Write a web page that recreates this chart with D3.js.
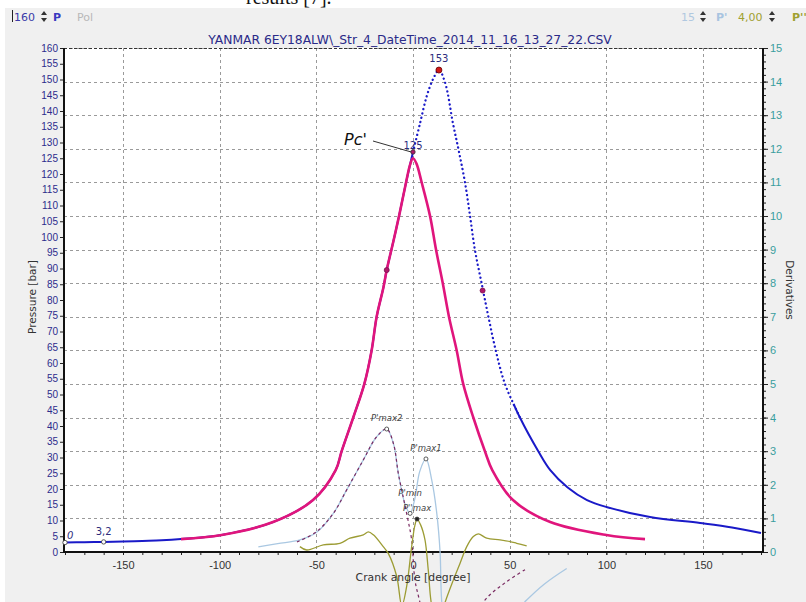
<!DOCTYPE html>
<html>
<head>
<meta charset="utf-8">
<script src="https://cdn.jsdelivr.net/npm/d3@7"></script>
<style>
  body { margin: 0; background: #fff; }
  svg { display: block; font-family: "DejaVu Sans", sans-serif; }
</style>
</head>
<body>
<div class="canvas"></div>
<script>
// data
const title = 'YANMAR 6EY18ALW\\_Str_4_DateTime_2014_11_16_13_27_22.CSV';
const xTicks = [-150, -100, -50, 0, 50, 100, 150];

// measured pressure P [bar] vs crank angle
const pressure = [
  [-180, 3.0], [-170, 3.1], [-160, 3.2], [-150, 3.3], [-140, 3.5], [-130, 3.7],
  [-120, 4.1], [-99, 5.4], [-72.4, 9.5], [-51.7, 16.5], [-40, 26], [-36.9, 32],
  [-30.9, 42.7], [-25.2, 53.3], [-21.4, 64], [-18.8, 74.7], [-15.3, 84], [-13.6, 89.5],
  [-10.2, 98.5], [-7.2, 106.7], [-3.6, 117.3], [0, 127], [3.6, 136], [7, 144.5],
  [10.3, 150], [13.4, 153], [16.6, 149], [20.7, 136], [23.8, 127], [26.9, 117.3],
  [29.5, 106.7], [32, 96], [35.5, 85.3], [39, 74.7], [42.8, 64], [47.6, 53.3],
  [55.3, 42.7], [64.8, 32], [71, 26], [80, 20.5], [90, 16.5], [100, 14.3],
  [122.6, 11.1], [148.5, 9.2], [165, 7.8], [180, 6.0]
];
const dottedFrom = 0, dottedTo = 52;

// polytrope (Pol) curve [bar]
const polytrope = [
  [-120, 4.1], [-99, 5.4], [-72.4, 9.5], [-51.7, 16.5], [-40, 26], [-36.9, 32],
  [-30.9, 42.7], [-25.2, 53.3], [-21.4, 64], [-18.8, 74.7], [-15.3, 84], [-13.6, 89.5],
  [-10.2, 98.5], [-7.2, 106.7], [-3.6, 117.3], [-1.5, 123], [0, 125], [1.8, 123.3],
  [4.5, 117.3], [8.8, 106.7], [11.9, 96], [15.4, 85.3], [18.6, 74.7], [22.6, 64],
  [26, 53.3], [31.2, 42.7], [37.2, 32], [41, 26], [51.7, 16.5], [71, 9.5], [100, 5.4],
  [120, 4.1]
];

// first derivative P' (light blue)
const dP = [
  [-80, 0.15], [-70, 0.25], [-58.5, 0.36], [-50, 0.58], [-41.2, 1.15], [-34.3, 1.85],
  [-25.7, 2.74], [-18.8, 3.43], [-13.6, 3.66], [-10, 3.2], [-7.6, 2.34], [-4, 1.4],
  [-1.5, 1.15], [1, 1.6], [3.5, 2.4], [6.7, 2.77], [9.7, 2.14], [12.3, 1.15],
  [14, 0], [14.8, -1.43], [17, -2.6], [25, -3.4], [40, -2.6], [58.8, -1.43],
  [68, -0.95], [79.5, -0.49]
];

// first derivative of polytrope (dashed)
const dPol = [
  [-60, 0.3], [-50, 0.6], [-41.2, 1.15], [-34.3, 1.85], [-25.7, 2.74], [-18.8, 3.43],
  [-13.6, 3.66], [-10, 3.2], [-7.6, 2.34], [-3.3, 1.15], [-0.7, 0.36], [1, -0.83],
  [3.6, -1.5], [8, -2.6], [15, -3.3], [25, -2.6], [37.2, -1.43], [48, -0.9], [59, -0.49]
];

// second derivative P'' (olive)
const ddP = [
  [-58.5, 0.16], [-55, 0.06], [-46.4, 0.21], [-37.8, 0.26], [-32.6, 0.41], [-25.7, 0.51],
  [-23.1, 0.6], [-20.5, 0.51], [-15.4, 0.16], [-12.8, -0.04], [-8.4, -0.73], [-5.8, -1.6],
  [-3.3, -1.03], [-0.7, 0.16], [1, 0.8], [2.1, 0.98], [4, 0.8], [6.2, 0.36], [7.9, -0.54],
  [9.7, -1.6], [13, -2.2], [16.6, -1.5], [20.9, -0.83], [24.3, -0.34], [27.8, 0.16],
  [31.2, 0.46], [33.8, 0.54], [38.1, 0.41], [45, 0.36], [50.2, 0.31], [53.6, 0.26],
  [58.8, 0.18]
];

// annotated points
const pMarks = [
  { a: -180, v: 3.0, label: '0', dx: 2, dy: -4, italic: true },
  { a: -160, v: 3.2, label: '3,2', dx: 0, dy: -7 },
  { a: 0, v: 127, label: '125', dx: 0, dy: -3 },
  { a: 13.4, v: 153, label: '153', dx: 0, dy: -8 }
];
const polMarks = [[-13.6, 89.5], [36, 83]];
const dMarks = [
  { a: -13.6, v: 3.66, label: "P'max2", dy: -8 },
  { a: 6.7, v: 2.77, label: "P'max1", dy: -8 },
  { a: -1.5, v: 1.15, label: "P'min", dy: -17 }
];
const ddMarks = [{ a: 2.1, v: 0.98, label: "P''max", dy: -8 }];

// setup
const W = 806, H = 602;
const svg = d3.select('.canvas').append('svg')
              .attr('width', W).attr('height', H);

svg.append('rect').attr('x', 5).attr('y', 8).attr('width', W - 5).attr('height', H - 8)
   .attr('fill', '#f0f0f0');
// cut-off line of the surrounding document
svg.append('text').attr('x', 246).attr('y', 4).attr('font-family', '"Liberation Serif", serif')
   .attr('font-size', 20).attr('fill', '#111').text('results [7].');

const plot = { left: 64, right: 763, top: 48, bottom: 552 };
svg.append('rect').attr('x', plot.left).attr('y', plot.top)
   .attr('width', plot.right - plot.left).attr('height', plot.bottom - plot.top)
   .attr('fill', '#fff');

const x = d3.scaleLinear().domain([-180, 180]).range([65, 761]);
const yP = d3.scaleLinear().domain([0, 160]).range([plot.bottom, plot.top]);
const yD = d3.scaleLinear().domain([0, 15]).range([plot.bottom, plot.top]);
const plain = d => String(d);

// grid
const grid = svg.append('g').attr('stroke', '#9a9a9a').attr('stroke-dasharray', '3,3');
grid.selectAll('.hg').data(d3.range(1, 16)).enter().append('line')
    .attr('x1', plot.left).attr('x2', plot.right)
    .attr('y1', d => Math.round(yD(d)) + 0.5).attr('y2', d => Math.round(yD(d)) + 0.5);
grid.selectAll('.vg').data(xTicks).enter().append('line')
    .attr('x1', d => Math.round(x(d)) + 0.5).attr('x2', d => Math.round(x(d)) + 0.5)
    .attr('y1', plot.top).attr('y2', plot.bottom);

// axes
const styleAxis = (g, color) => {
  g.select('.domain').remove();
  g.selectAll('line').attr('stroke', '#222');
  g.selectAll('text').attr('fill', color).attr('font-size', 10);
};

svg.append('g').attr('transform', `translate(${plot.left},0)`)
   .call(d3.axisLeft(yP).tickValues(d3.range(0, 161, 5)).tickSize(4).tickPadding(2).tickFormat(plain))
   .call(g => styleAxis(g, '#2c2c8c'));

svg.append('g').attr('transform', `translate(${plot.right},0)`)
   .call(d3.axisRight(yD).tickValues(d3.range(0, 15.01, 0.2)).tickSize(3).tickFormat(''))
   .call(g => styleAxis(g, '#3a9e9e'));
svg.append('g').attr('transform', `translate(${plot.right},0)`)
   .call(d3.axisRight(yD).tickValues(d3.range(0, 16, 1)).tickSize(5).tickPadding(2).tickFormat(plain))
   .call(g => styleAxis(g, '#3a9e9e'))
   .selectAll('text').attr('font-size', 11);

svg.append('g').attr('transform', `translate(0,${plot.bottom})`)
   .call(d3.axisBottom(x).tickValues(d3.range(-180, 181, 10)).tickSize(3).tickFormat(''))
   .call(g => styleAxis(g, '#333'));
svg.append('g').attr('transform', `translate(0,${plot.bottom})`)
   .call(d3.axisBottom(x).tickValues(xTicks).tickSize(3).tickPadding(6).tickFormat(plain))
   .call(g => styleAxis(g, '#333'))
   .selectAll('text').attr('font-size', 11);

// axis lines
svg.append('line').attr('x1', plot.left).attr('x2', plot.right)
   .attr('y1', plot.top + 0.5).attr('y2', plot.top + 0.5)
   .attr('stroke', '#333').attr('stroke-dasharray', '3,2');
svg.append('line').attr('x1', plot.left).attr('x2', plot.left)
   .attr('y1', plot.top).attr('y2', plot.bottom + 1).attr('stroke', '#111').attr('stroke-width', 2);
svg.append('line').attr('x1', plot.right).attr('x2', plot.right)
   .attr('y1', plot.top).attr('y2', plot.bottom + 1).attr('stroke', '#111').attr('stroke-width', 2);
svg.append('line').attr('x1', plot.left).attr('x2', plot.right)
   .attr('y1', plot.bottom).attr('y2', plot.bottom).attr('stroke', '#111').attr('stroke-width', 2);

// line generator
const mkLine = yScale => d3.line().x(d => x(d[0])).y(d => yScale(d[1])).curve(d3.curveCatmullRom.alpha(0.5));

// derivatives (not clipped, they run below the plot)
svg.append('path').datum(dP)
   .attr('fill', 'none').attr('stroke', '#aac8e2').attr('stroke-width', 1.3)
   .attr('d', mkLine(yD));
svg.append('path').datum(dPol)
   .attr('fill', 'none').attr('stroke', '#7a2a62').attr('stroke-width', 1.2)
   .attr('stroke-dasharray', '3,3')
   .attr('d', mkLine(yD));
svg.append('path').datum(ddP)
   .attr('fill', 'none').attr('stroke', '#9c9c34').attr('stroke-width', 1.3)
   .attr('d', mkLine(yD));

// pressure: solid, dotted, solid
const pSolidA = pressure.filter(d => d[0] <= dottedFrom);
const pDotted = pressure.filter(d => d[0] >= dottedFrom && d[0] <= dottedTo + 4);
const pSolidB = pressure.filter(d => d[0] >= dottedTo - 5);
svg.append('path').datum(pSolidA)
   .attr('fill', 'none').attr('stroke', '#1a1ac8').attr('stroke-width', 2)
   .attr('d', mkLine(yP));
svg.append('path').datum(pDotted)
   .attr('fill', 'none').attr('stroke', '#1a1ac8').attr('stroke-width', 2.3)
   .attr('stroke-linecap', 'round').attr('stroke-dasharray', '0.1,4.3')
   .attr('d', mkLine(yP));
// solid tail starts where the dotted part ends
const tail = svg.append('path').datum(pSolidB)
   .attr('fill', 'none').attr('stroke', '#1a1ac8').attr('stroke-width', 2)
   .attr('d', mkLine(yP));
const tailNode = tail.node();
const cut = x(dottedTo);
let lenCut = 0;
for (let l = 0; l < tailNode.getTotalLength(); l += 0.5) {
  if (tailNode.getPointAtLength(l).x >= cut) { lenCut = l; break; }
}
tail.attr('stroke-dasharray', `0,${lenCut},${tailNode.getTotalLength()}`);

// polytrope on top
svg.append('path').datum(polytrope)
   .attr('fill', 'none').attr('stroke', '#e0157c').attr('stroke-width', 2.6)
   .attr('d', mkLine(yP));

// markers
svg.selectAll('.polmark').data(polMarks).enter().append('circle')
   .attr('cx', d => x(d[0])).attr('cy', d => yP(d[1])).attr('r', 2.5)
   .attr('fill', '#b0186a').attr('stroke', '#7a1050').attr('stroke-width', 0.8);

svg.selectAll('.pmark').data(pMarks).enter().append('circle')
   .attr('cx', d => x(d.a)).attr('cy', d => yP(d.v)).attr('r', d => d.a === 13.4 ? 3 : 2.2)
   .attr('fill', d => d.a === 13.4 ? '#d01818' : (d.a === 0 ? '#b0186a' : '#fff'))
   .attr('stroke', d => d.a === 13.4 ? '#600' : '#333').attr('stroke-width', 0.8);
svg.selectAll('.plab').data(pMarks).enter().append('text')
   .attr('x', d => x(d.a) + (d.dx || 0)).attr('y', d => yP(d.v) + d.dy)
   .attr('text-anchor', d => d.a === -180 ? 'start' : 'middle')
   .attr('font-size', 10).attr('fill', '#2c2c7c')
   .attr('font-style', d => d.italic ? 'italic' : 'normal')
   .text(d => d.label);

const allD = dMarks.concat(ddMarks);
svg.selectAll('.dmark').data(allD).enter().append('circle')
   .attr('cx', d => x(d.a)).attr('cy', d => yD(d.v)).attr('r', 2)
   .attr('fill', d => d.label === "P''max" ? '#222' : '#fff')
   .attr('stroke', '#333').attr('stroke-width', 0.8);
svg.selectAll('.dlab').data(allD).enter().append('text')
   .attr('x', d => x(d.a)).attr('y', d => yD(d.v) + d.dy)
   .attr('text-anchor', 'middle').attr('font-size', 8.5).attr('font-style', 'italic')
   .attr('fill', '#444').text(d => d.label);

// Pc' annotation
svg.append('line').attr('x1', 373).attr('y1', 141).attr('x2', x(0) - 2).attr('y2', yP(127))
   .attr('stroke', '#333').attr('stroke-width', 1);
svg.append('text').attr('x', 344).attr('y', 145).attr('font-size', 16)
   .attr('font-style', 'italic').attr('fill', '#111').text("Pc'");

// titles
svg.append('text').attr('x', 410).attr('y', 44).attr('text-anchor', 'middle')
   .attr('font-size', 12.3).attr('fill', '#2a2a88').text(title);
svg.append('text').attr('x', x(0)).attr('y', 581).attr('text-anchor', 'middle')
   .attr('font-size', 10.8).attr('fill', '#333').text('Crank angle [degree]');
svg.append('text').attr('transform', 'translate(36,297) rotate(-90)').attr('text-anchor', 'middle')
   .attr('font-size', 10.5).attr('fill', '#333').text('Pressure [bar]');
svg.append('text').attr('transform', 'translate(786,290) rotate(90)').attr('text-anchor', 'middle')
   .attr('font-size', 10.5).attr('fill', '#333').text('Derivatives');

// toolbar
const bar = svg.append('g').attr('font-size', 11);
const spinner = (g, cx) => {
  g.append('path').attr('d', `M${cx - 3},15 L${cx + 3},15 L${cx},11 Z`).attr('fill', '#333');
  g.append('path').attr('d', `M${cx - 3},18 L${cx + 3},18 L${cx},22 Z`).attr('fill', '#333');
};
bar.append('line').attr('x1', 12.5).attr('x2', 12.5).attr('y1', 10).attr('y2', 22).attr('stroke', '#222');
bar.append('text').attr('x', 14).attr('y', 21).attr('fill', '#3a3aa8').text('160');
spinner(bar, 44);
bar.append('text').attr('x', 53).attr('y', 21).attr('fill', '#3a3ac0').attr('font-weight', 'bold').text('P');
bar.append('text').attr('x', 77).attr('y', 21).attr('fill', '#b8b8b8').text('Pol');
bar.append('text').attr('x', 681).attr('y', 21).attr('fill', '#b0c8e0').text('15');
spinner(bar, 703);
bar.append('text').attr('x', 716).attr('y', 21).attr('fill', '#a8c4e0').attr('font-weight', 'bold').text("P'");
bar.append('text').attr('x', 738).attr('y', 21).attr('fill', '#a0a030').text('4,00');
spinner(bar, 772);
bar.append('text').attr('x', 792).attr('y', 21).attr('fill', '#a0a030').attr('font-weight', 'bold').text("P''");
</script>
</body>
</html>
